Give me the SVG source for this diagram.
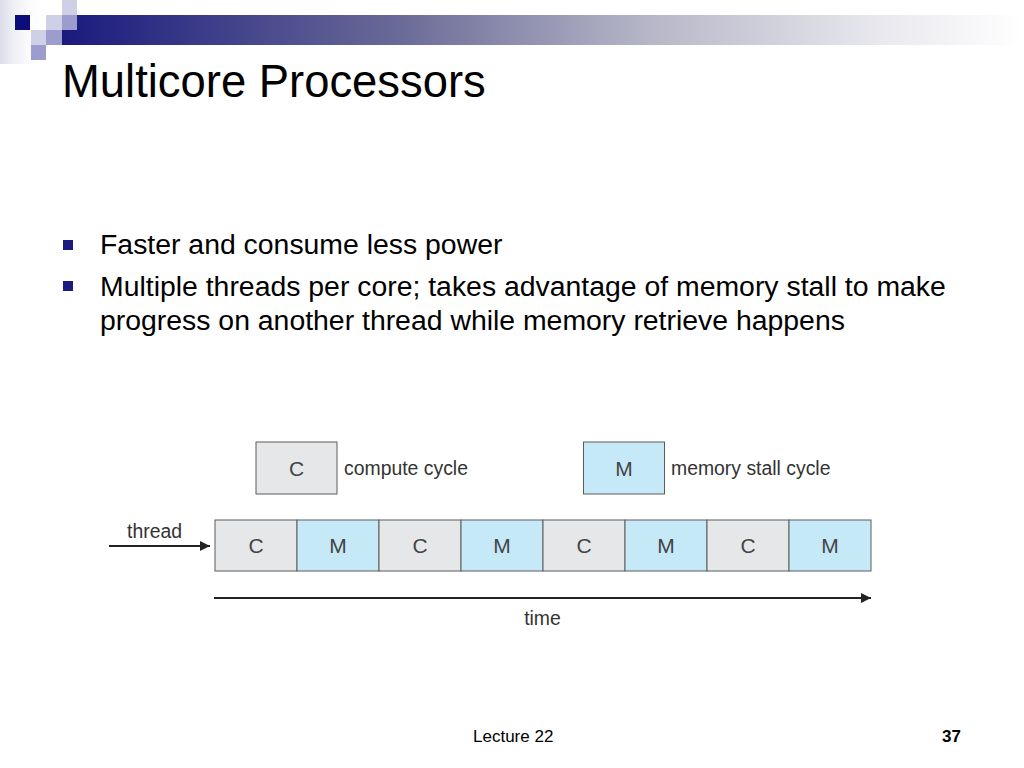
<svg xmlns="http://www.w3.org/2000/svg" width="1024" height="768" viewBox="0 0 1024 768">
<defs>
<linearGradient id="bar" x1="0" y1="0" x2="1" y2="0">
<stop offset="0" stop-color="#1a1a7e"/>
<stop offset="0.35" stop-color="#6a6a98"/>
<stop offset="0.6" stop-color="#b4b4c6"/>
<stop offset="0.85" stop-color="#e8e8ee"/>
<stop offset="1" stop-color="#ffffff"/>
</linearGradient>
<linearGradient id="strip" x1="0" y1="0" x2="1" y2="0">
<stop offset="0" stop-color="#dcdcea"/>
<stop offset="1" stop-color="#ffffff" stop-opacity="0"/>
</linearGradient>
<marker id="ah" viewBox="0 0 10 10" refX="10" refY="5" markerWidth="10" markerHeight="10" markerUnits="userSpaceOnUse" orient="auto">
<path d="M0,0 L10,5 L0,10 Z" fill="#222"/>
</marker>
<style>
.title{font-family:"Liberation Sans",Arial,sans-serif;font-size:45.4px;fill:#000}
.body{font-family:"Liberation Sans",Arial,sans-serif;font-size:28.4px;fill:#000}
.bul{fill:#1a1a80}
.dg{font-family:"Liberation Sans",Arial,sans-serif;font-size:19.4px;fill:#333}
.cell{font-family:"Liberation Sans",Arial,sans-serif;font-size:21px;fill:#444;text-anchor:middle}
.c{fill:#e6e7e8;stroke:#5c5c5c;stroke-width:1}
.m{fill:#c6e9f8;stroke:#5c5c5c;stroke-width:1}
.foot{font-family:"Liberation Sans",Arial,sans-serif;font-size:17px;fill:#000}
.line{stroke:#222;stroke-width:2;fill:none}
</style>
</defs>
<rect width="1024" height="768" fill="#fff"/>
<g id="decoration">
<rect x="0" y="0" width="45" height="64" fill="url(#strip)"/>
<rect x="62" y="15" width="962" height="30" fill="url(#bar)"/>
<rect x="15" y="15" width="15" height="15" fill="#0d0d7a"/>
<rect x="62" y="0" width="15" height="15" fill="#cfcfe6"/>
<rect x="46" y="15" width="16" height="15" fill="#cfcfe6"/>
<rect x="62" y="15" width="15" height="15" fill="#9c9cce"/>
<rect x="31" y="30" width="15" height="15" fill="#cfcfe6"/>
<rect x="46" y="30" width="16" height="15" fill="#9c9cce"/>
<rect x="31" y="45" width="15" height="15" fill="#9c9cce"/>
</g>
<text class="title" x="62" y="97">Multicore Processors</text>
<g id="bullets">
<rect class="bul" x="63" y="240" width="10" height="10"/>
<text class="body" x="100" y="254">Faster and consume less power</text>
<rect class="bul" x="63" y="281" width="10" height="10"/>
<text class="body" x="100" y="296">Multiple threads per core; takes advantage of memory stall to make</text>
<text class="body" x="100" y="330">progress on another thread while memory retrieve happens</text>
</g>
<g id="legend-compute">
<rect class="c" x="256" y="442" width="81" height="52"/>
<text class="cell" x="296.5" y="476">C</text>
<text class="dg" x="344" y="475">compute cycle</text>
</g>
<g id="legend-memory">
<rect class="m" x="583.500" y="442" width="81" height="52"/>
<text class="cell" x="624" y="476">M</text>
<text class="dg" x="671" y="475">memory stall cycle</text>
</g>
<g id="thread-row">
<rect class="c" x="215" y="520" width="82" height="51"/>
<text class="cell" x="256" y="553">C</text>
<rect class="m" x="297" y="520" width="82" height="51"/>
<text class="cell" x="338" y="553">M</text>
<rect class="c" x="379" y="520" width="82" height="51"/>
<text class="cell" x="420" y="553">C</text>
<rect class="m" x="461" y="520" width="82" height="51"/>
<text class="cell" x="502" y="553">M</text>
<rect class="c" x="543" y="520" width="82" height="51"/>
<text class="cell" x="584" y="553">C</text>
<rect class="m" x="625" y="520" width="82" height="51"/>
<text class="cell" x="666" y="553">M</text>
<rect class="c" x="707" y="520" width="82" height="51"/>
<text class="cell" x="748" y="553">C</text>
<rect class="m" x="789" y="520" width="82" height="51"/>
<text class="cell" x="830" y="553">M</text>
</g>
<g id="connectors">
<line class="line" x1="109" y1="546" x2="210" y2="546" marker-end="url(#ah)"/>
<line class="line" x1="214" y1="598" x2="871" y2="598" marker-end="url(#ah)"/>
</g>
<text class="dg" x="127" y="538">thread</text>
<text class="dg" x="542.500" y="625" text-anchor="middle">time</text>
<g id="footer">
<text class="foot" x="473" y="742">Lecture 22</text>
<text class="foot" x="961" y="742" text-anchor="end" font-weight="bold">37</text>
</g>
</svg>
